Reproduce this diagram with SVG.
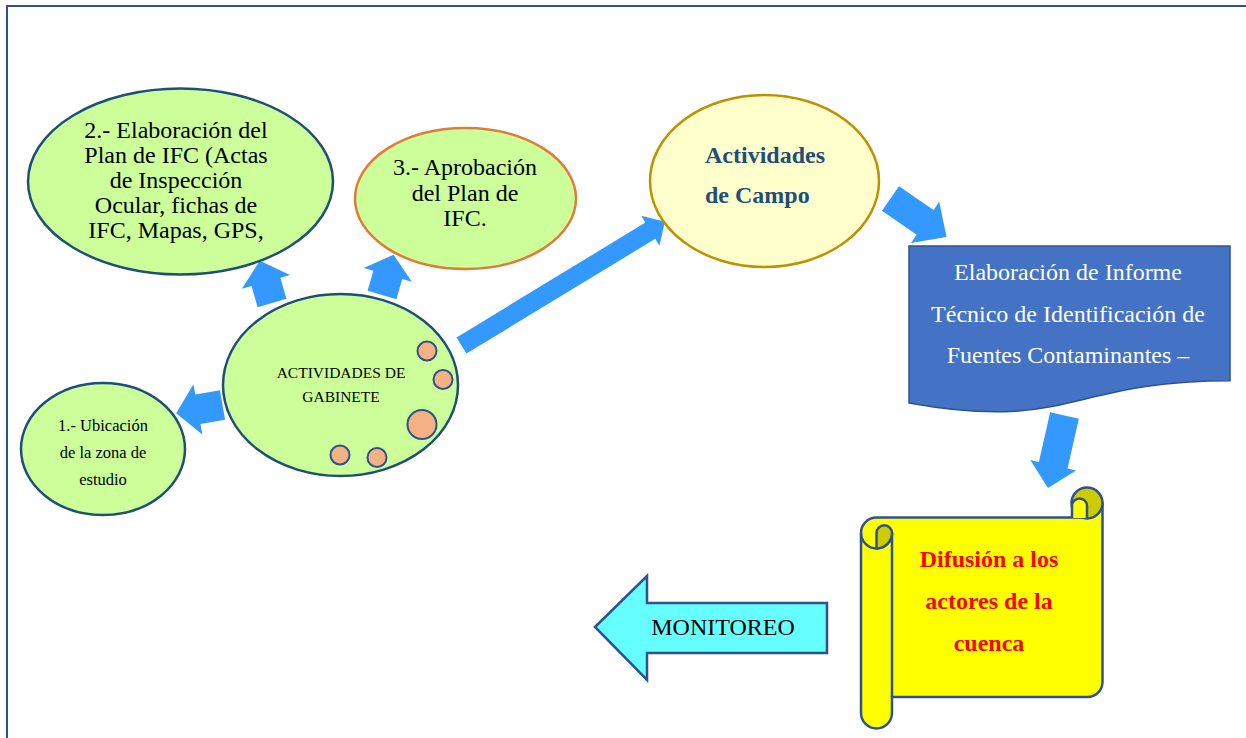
<svg xmlns="http://www.w3.org/2000/svg" width="1246" height="738" viewBox="0 0 1246 738">
<style>
.t{font-family:"Liberation Serif","Times New Roman",serif;text-anchor:middle}
.arr{fill:#3399ff}
.oval{fill:#ccff99;stroke:#1f4e79;stroke-width:2.5}
.dot{fill:#f4b183;stroke:#2f528f;stroke-width:2}
.ln{fill:none;stroke:#2f528f;stroke-width:2}
</style>
<rect width="1246" height="738" fill="#ffffff"/>
<g id="frame">
<path class="ln" d="M7,738 V6 H1246"/>
</g>
<g id="connectors">
<polygon class="arr" transform="translate(272,303) rotate(-16)" points="-15,0 -15,-22 -25,-22 0,-44 25,-22 15,-22 15,0"/>
<polygon class="arr" transform="translate(382,295) rotate(16)" points="-15,0 -15,-21 -25,-21 0,-42 25,-21 15,-21 15,0"/>
<polygon class="arr" transform="translate(222.5,405) rotate(170)" points="0,-15 25,-15 25,-25.5 47,0 25,25.5 25,15 0,15"/>
<polygon class="arr" transform="translate(461.5,345.5) rotate(-31.3)" points="0,-9.5 221,-9.5 221,-17.5 238,0 221,17.5 221,9.5 0,9.5"/>
<polygon class="arr" transform="translate(890.5,198.5) rotate(34.5)" points="0,-15 42,-15 42,-25 68,0 42,25 42,15 0,15"/>
<polygon class="arr" transform="translate(1064.5,415.5) rotate(102.8)" points="0,-14.7 51,-14.7 51,-23.5 74.4,0 51,23.5 51,14.7 0,14.7"/>
</g>
<g id="plan">
<ellipse class="oval" cx="180.5" cy="181.5" rx="152.5" ry="93"/>
<text class="t" font-size="24" fill="#000"><tspan x="176" y="138">2.- Elaboración del</tspan><tspan x="176" y="163">Plan de IFC (Actas</tspan><tspan x="176" y="188">de Inspección</tspan><tspan x="176" y="213">Ocular, fichas de</tspan><tspan x="176" y="238">IFC, Mapas, GPS,</tspan></text>
</g>
<g id="aprobacion">
<ellipse cx="465.5" cy="198.5" rx="110.5" ry="70.5" fill="#ccff99" stroke="#e07b39" stroke-width="2.5"/>
<text class="t" font-size="24" fill="#000"><tspan x="465" y="175">3.- Aprobación</tspan><tspan x="465" y="200.5">del Plan de</tspan><tspan x="465" y="226">IFC.</tspan></text>
</g>
<g id="gabinete">
<ellipse class="oval" cx="340.5" cy="385" rx="117.5" ry="91"/>
<text class="t" font-size="15.5" fill="#000"><tspan x="341" y="378">ACTIVIDADES DE</tspan><tspan x="341" y="402">GABINETE</tspan></text>
<circle class="dot" cx="427" cy="351" r="9.5"/>
<circle class="dot" cx="443" cy="379.5" r="9.5"/>
<circle class="dot" cx="422" cy="424.5" r="14.5"/>
<circle class="dot" cx="340" cy="455" r="9.5"/>
<circle class="dot" cx="377" cy="457.5" r="9.5"/>
</g>
<g id="ubicacion">
<ellipse class="oval" cx="103" cy="449" rx="82" ry="66"/>
<text class="t" font-size="16.5" fill="#000"><tspan x="103" y="431">1.- Ubicación</tspan><tspan x="103" y="458">de la zona de</tspan><tspan x="103" y="485">estudio</tspan></text>
</g>
<g id="campo">
<ellipse cx="764.5" cy="181" rx="114.5" ry="86" fill="#ffffcc" stroke="#bf9000" stroke-width="2.5"/>
<text font-family="Liberation Serif, Times New Roman, serif" font-size="24" font-weight="bold" fill="#1f4e79"><tspan x="705" y="163">Actividades</tspan><tspan x="705" y="203">de Campo</tspan></text>
</g>
<g id="informe">
<path d="M909,246 H1230 V380.7 C1069.5,380.7 1069.5,432 909,403 Z" fill="#4472c4" stroke="#2f528f" stroke-width="1.5"/>
<text class="t" font-size="24" fill="#ffffff"><tspan x="1068" y="280">Elaboración de Informe</tspan><tspan x="1068" y="322">Técnico de Identificación de</tspan><tspan x="1068" y="363">Fuentes Contaminantes –</tspan></text>
</g>
<g id="difusion">
<path d="M861,533 A15.5,15.5 0 0 1 876.5,517.5 H1087 V503 A15.5,15.5 0 0 1 1102.5,503 V682 A15,15 0 0 1 1087.5,697 H892 V713 A15.5,15.5 0 0 1 861,713 Z" fill="#ffff00" stroke="#2f528f" stroke-width="2.5"/>
<circle cx="1087" cy="503" r="15.5" fill="#cccc00" stroke="#2f528f" stroke-width="2.5"/>
<path d="M1072,518 V506 A7.5,7.5 0 0 1 1087,506 V518" fill="#ffff00" stroke="#2f528f" stroke-width="2.5"/>
<path d="M892,533 V697" fill="none" stroke="#2f528f" stroke-width="2.5"/>
<path d="M861,533 A15.5,15.5 0 0 0 892,533" fill="none" stroke="#2f528f" stroke-width="2.5"/>
<path d="M876.5,533 A7.75,7.75 0 0 1 892,533 A15.5,15.5 0 0 1 876.5,548.5 Z" fill="#cccc00" stroke="#2f528f" stroke-width="2.5"/>
<text class="t" font-size="24" font-weight="bold" fill="#ff0000"><tspan x="989" y="567">Difusión a los</tspan><tspan x="989" y="609">actores de la</tspan><tspan x="989" y="651">cuenca</tspan></text>
</g>
<g id="monitoreo">
<polygon points="595,627 647,576 647,603 827,603 827,653 647,653 647,680" fill="#66ffff" stroke="#2f528f" stroke-width="2.5"/>
<text class="t" font-size="24" fill="#000" x="723" y="635">MONITOREO</text>
</g>
</svg>
